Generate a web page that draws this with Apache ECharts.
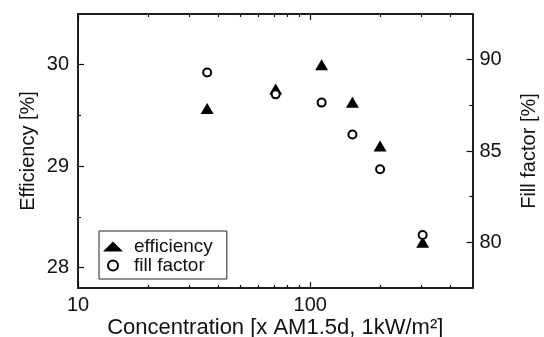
<!DOCTYPE html>
<html>
<head>
<meta charset="utf-8">
<script src="https://cdn.jsdelivr.net/npm/echarts@6/dist/echarts.min.js"></script>
<style>
  html, body { margin: 0; padding: 0; background: #fff; }
  #chart { width: 544px; height: 337px; }
</style>
</head>
<body>
<div id="chart"></div>
<script>
const concentration = [36, 71, 112, 152, 200, 305];
const efficiency = [29.57, 29.76, 30.0, 29.63, 29.2, 28.25];
const fillFactor = [89.3, 88.1, 87.65, 85.9, 84.0, 80.4];

const xMajor = [10, 100];
const xMinor = [20, 30, 40, 50, 60, 70, 80, 90, 200, 300, 400];
const effMajor = [28, 29, 30];
const effMinor = [28.5, 29.5];
const ffMajor = [80, 85, 90];
const ffMinor = [82.5, 87.5];

const FONT = "Liberation Sans, Arial, sans-serif";
const INK = "#111";

function xAx(position, ticks, len, opts) {
  return Object.assign({
    type: "log",
    logBase: 10,
    min: 10,
    max: 500,
    position: position,
    splitLine: { show: false },
    axisLine: { show: true, onZero: false, lineStyle: { color: INK, width: 1.5 } },
    axisTick: { show: true, inside: true, length: len, customValues: ticks, lineStyle: { color: INK, width: 1.2 } },
    axisLabel: { show: false },
  }, opts || {});
}

function yAx(position, min, max, ticks, len, opts) {
  return Object.assign({
    type: "value",
    min: min,
    max: max,
    position: position,
    splitLine: { show: false },
    axisLine: { show: true, onZero: false, lineStyle: { color: INK, width: 1.5 } },
    axisTick: { show: true, inside: true, length: len, customValues: ticks, lineStyle: { color: INK, width: 1.2 } },
    axisLabel: { show: false },
  }, opts || {});
}

const chart = echarts.init(document.getElementById("chart"), null, { renderer: "canvas" });

chart.setOption({
  animation: false,
  backgroundColor: "#fff",
  textStyle: { fontFamily: FONT, color: INK },
  grid: { left: 78, right: 71.5, top: 14, bottom: 49, outerBoundsMode: "none" },
  legend: {
    orient: "vertical",
    left: 99,
    top: 231,
    padding: [6, 14, 4, 4],
    itemGap: 0,
    itemWidth: 20,
    itemHeight: 10,
    borderColor: "#222",
    borderWidth: 1,
    textStyle: { fontFamily: FONT, fontSize: 19, color: INK, padding: [0, 0, 0, 6] },
    data: ["efficiency", "fill factor"],
  },
  xAxis: [
    xAx("bottom", xMajor, 6, {
      name: "Concentration [x AM1.5d, 1kW/m²]",
      nameLocation: "middle",
      nameGap: 29,
      nameMoveOverlap: false,
      nameTextStyle: { fontFamily: FONT, fontSize: 22, color: INK },
      axisLabel: { show: true, customValues: xMajor, margin: 7, fontFamily: FONT, fontSize: 20, color: INK },
    }),
    xAx("bottom", xMinor, 3),
    xAx("top", xMajor, 6),
    xAx("top", xMinor, 3),
  ],
  yAxis: [
    yAx("left", 27.8, 30.5, effMajor, 6, {
      name: "Efficiency [%]",
      nameLocation: "middle",
      nameGap: 40,
      nameMoveOverlap: false,
      nameTextStyle: { fontFamily: FONT, fontSize: 20, color: INK },
      axisLabel: { show: true, customValues: effMajor, margin: 9, fontFamily: FONT, fontSize: 20, color: INK },
    }),
    yAx("left", 27.8, 30.5, effMinor, 3),
    yAx("right", 77.5, 92.5, ffMajor, 6, {
      name: "Fill factor [%]",
      nameLocation: "middle",
      nameGap: 47,
      nameMoveOverlap: false,
      nameTextStyle: { fontFamily: FONT, fontSize: 20, color: INK },
      axisLabel: { show: true, customValues: ffMajor, margin: 7, fontFamily: FONT, fontSize: 20, color: INK },
    }),
    yAx("right", 77.5, 92.5, ffMinor, 3),
  ],
  series: [
    {
      name: "efficiency",
      type: "scatter",
      xAxisIndex: 0,
      yAxisIndex: 0,
      symbol: "triangle",
      symbolSize: [13, 11],
      itemStyle: { color: "#000", opacity: 1 },
      data: concentration.map((c, i) => [c, efficiency[i]]),
      z: 2,
    },
    {
      name: "fill factor",
      type: "scatter",
      xAxisIndex: 0,
      yAxisIndex: 2,
      symbol: "emptyCircle",
      symbolSize: 8,
      itemStyle: { color: "#000", borderColor: "#000", borderWidth: 1.5, opacity: 1 },
      data: concentration.map((c, i) => [c, fillFactor[i]]),
      z: 3,
    },
  ],
});
</script>
</body>
</html>
